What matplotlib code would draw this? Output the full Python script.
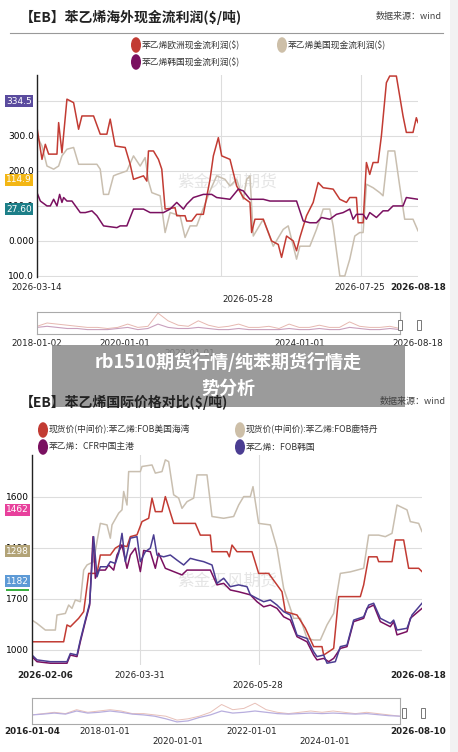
import matplotlib
matplotlib.use("Agg")
import matplotlib.pyplot as plt
from matplotlib.patches import Rectangle
import numpy as np

plt.rcParams['font.family'] = ['Noto Sans CJK SC', 'DejaVu Sans']

W, H = 458, 752
fig = plt.figure(figsize=(W/100, H/100), dpi=100)
fig.patch.set_facecolor('white')

def ax_px(x0, y0, x1, y1):
    return fig.add_axes([x0/W, 1-y1/H, (x1-x0)/W, (y1-y0)/H])

def ftxt(x, y, s, **kw):
    return fig.text(x/W, 1-y/H, s, **kw)

RED, BEIGE, PLUM, BLUE = '#c23b33', '#c9bfb0', '#7a1060', '#4b3d92'

# ---------------- Chart 1 data (t = sample position along time axis) ----------------
c1_eu_t = [20,35,45,55,80,85,95,110,130,145,155,190,210,230,240,255,285,300,310,340,350,355,370,385,395,405,435,440,465,470,485,500,520,540,550,565,575,600,620,640,660,665,675,700,725,745,755,770,790,800,810,830,850,865,880,910,930,950,960,980,985,1000,1010,1020,1030,1045,1055,1070,1080,1100,1120,1130,1150,1160,1165]
c1_eu_v = [324,233,276,248,248,338,252,405,395,319,357,357,305,305,348,271,267,219,176,186,171,257,257,233,205,91,95,72,72,57,57,76,76,176,243,295,243,233,157,124,110,24,62,62,0,-10,-47,14,0,-28,10,72,110,167,152,148,119,110,124,124,52,52,224,190,224,224,300,452,471,471,357,310,310,352,338]
c1_us_t = [20,35,50,70,85,95,110,130,145,200,210,220,235,250,260,290,310,330,345,355,365,390,405,420,450,465,480,500,515,540,560,585,600,620,640,650,660,670,700,730,760,775,800,810,840,860,880,900,910,930,945,960,975,990,1000,1010,1030,1050,1060,1075,1095,1110,1125,1150,1165]
c1_us_v = [300,271,214,205,214,243,262,267,219,219,205,133,133,186,190,200,243,214,238,171,138,129,24,81,72,10,43,43,81,143,186,176,157,176,119,176,186,14,62,-15,33,43,-52,-15,-15,33,91,91,43,-100,-100,-52,14,24,24,162,152,138,129,257,257,157,62,62,29]
c1_kr_t = [20,30,50,60,70,80,88,95,100,110,125,150,165,185,200,220,260,270,290,310,340,360,380,400,420,440,460,470,490,520,545,560,600,625,640,660,700,720,760,800,820,840,860,875,900,920,940,960,970,980,1000,1010,1020,1040,1060,1075,1090,1120,1130,1165]
c1_kr_v = [138,114,100,100,119,100,133,110,124,114,114,81,81,86,72,43,38,43,43,91,91,81,81,81,91,110,91,105,124,133,133,124,119,148,143,119,119,114,114,114,57,52,52,67,62,76,81,91,62,76,76,62,81,67,86,86,100,100,124,119]
c1_xticks = [20, 573, 993, 1165]
c1_yticks = [400, 300, 200, 100, 0, -100]
c1_ylabels = ['', '300.0', '200.0', '100.0', '0.000', '100.0']

# ---------------- Chart 2 data ----------------
c2_us_t = [5,100,110,120,145,160,175,200,210,240,255,270,290,300,320,335,355,365,375,395,405,430,495,510,540,545,590,597,605,620,665,685,715,740,755,765,800,825,850,875,880,910,925,990,1000,1015,1040,1045,1085,1095,1120,1135,1165,1175]
c2_us_v = [1031,1031,1097,1090,1123,1149,1299,1299,1371,1371,1398,1410,1404,1443,1450,1502,1515,1594,1541,1541,1600,1495,1495,1449,1449,1384,1384,1364,1410,1384,1384,1299,1299,1254,1227,1149,1136,1084,1012,1012,979,1005,1208,1208,1254,1364,1364,1345,1345,1430,1430,1319,1319,1306]
c2_fuj_t = [5,20,45,75,80,105,115,125,135,150,160,170,190,200,210,230,240,245,265,275,280,290,295,330,335,365,375,395,405,415,430,445,455,470,490,500,530,545,580,610,625,640,660,668,685,720,740,760,790,810,830,850,870,890,910,930,960,1000,1015,1045,1065,1085,1100,1130,1140,1165,1175]
c2_fuj_v = [1116,1103,1077,1077,1136,1142,1175,1162,1195,1188,1312,1332,1345,1424,1495,1489,1437,1489,1535,1548,1620,1567,1698,1698,1718,1724,1692,1698,1744,1737,1607,1594,1554,1580,1594,1685,1685,1522,1515,1522,1567,1600,1600,1639,1495,1489,1398,1240,1123,1123,1044,1038,1038,1097,1142,1299,1305,1319,1449,1449,1443,1456,1567,1548,1502,1495,1463]
c2_cn_t = [5,20,60,110,120,140,150,165,178,188,195,205,225,235,250,260,275,290,300,315,330,340,360,375,385,405,430,455,470,500,540,560,580,600,625,660,680,700,720,740,760,780,800,830,850,860,880,895,910,930,950,970,1000,1010,1030,1050,1080,1090,1100,1130,1140,1175]
c2_cn_v = [973,953,947,947,979,973,1031,1110,1175,1443,1280,1312,1312,1332,1312,1371,1410,1319,1371,1398,1306,1389,1384,1319,1378,1319,1306,1293,1312,1312,1312,1254,1260,1234,1227,1215,1188,1168,1175,1162,1129,1116,1051,1031,979,960,966,953,966,1005,1012,1110,1123,1162,1175,1110,1090,1110,1058,1071,1123,1162]
c2_kr_t = [5,20,60,110,120,140,150,165,178,190,200,210,230,240,255,265,275,285,300,320,330,345,360,370,380,400,420,440,460,480,500,520,545,560,580,600,625,650,660,680,700,720,740,760,780,800,830,850,860,880,890,915,930,950,970,1000,1015,1030,1050,1080,1090,1100,1130,1145,1175]
c2_kr_v = [979,960,953,953,985,979,1038,1116,1182,1443,1286,1325,1325,1345,1338,1378,1456,1345,1437,1443,1345,1384,1398,1450,1371,1364,1371,1351,1332,1358,1351,1345,1332,1260,1280,1247,1254,1247,1215,1201,1188,1195,1175,1149,1136,1057,1044,992,973,979,947,953,1012,1018,1116,1129,1175,1182,1123,1103,1116,1077,1084,1136,1182]
c2_xticks = [5, 330, 685, 1175]
c2_yticks = [1600, 1400, 1200, 1000]
c2_ylabels = ['1600', '1400', '1700', '1000']

# navigator mini series (relative 0..1)
nav1_a = [0.35,0.5,0.45,0.4,0.35,0.3,0.3,0.25,0.3,0.45,0.3,0.35,0.95,0.6,0.4,0.35,0.6,0.4,0.3,0.35,0.45,0.3,0.3,0.35,0.25,0.45,0.3,0.3,0.4,0.3,0.3,0.55,0.35,0.3,0.3,0.35,0.25]
nav1_b = [0.3,0.35,0.3,0.25,0.25,0.2,0.2,0.2,0.25,0.3,0.2,0.25,0.45,0.3,0.25,0.25,0.3,0.25,0.2,0.2,0.25,0.2,0.2,0.2,0.2,0.25,0.2,0.2,0.25,0.2,0.2,0.3,0.25,0.2,0.2,0.25,0.2]
nav2_a = [0.35,0.4,0.45,0.4,0.55,0.45,0.5,0.55,0.5,0.4,0.4,0.35,0.3,0.15,0.2,0.3,0.45,0.75,0.55,0.6,0.8,0.55,0.45,0.4,0.45,0.5,0.45,0.5,0.45,0.4,0.45,0.4,0.35,0.3]
nav2_b = [0.35,0.38,0.42,0.38,0.5,0.42,0.45,0.5,0.45,0.38,0.35,0.3,0.2,0.08,0.12,0.25,0.35,0.5,0.42,0.45,0.5,0.45,0.4,0.38,0.4,0.42,0.4,0.42,0.4,0.38,0.4,0.36,0.32,0.3]

def style_main(ax, yt, yl, xt):
    for s in ['top', 'right', 'bottom']:
        ax.spines[s].set_visible(False)
    ax.spines['left'].set_color('#222')
    ax.spines['left'].set_linewidth(1.0)
    ax.set_yticks(yt)
    ax.set_yticklabels(yl, fontsize=6.5, family=['DejaVu Sans'])
    ax.tick_params(axis='y', length=0, pad=2)
    ax.set_xticks([])
    for y in yt:
        ax.axhline(y, color='#dddddd', lw=0.8, zorder=0)
    for x in xt[1:3]:
        ax.axvline(x, color='#dddddd', lw=0.8, zorder=0)

def badge(x, y, s, bg):
    ftxt(x, y, s, fontsize=6.5, color='white', ha='left', va='center', family=['DejaVu Sans'],
         bbox=dict(boxstyle='square,pad=0.12', fc=bg, ec='none'))

def legend_dot(x, y, c, s):
    fig.add_artist(plt.Circle(((x)/W, 1-y/H), 4.3/W, color=c, transform=fig.transFigure))
    ftxt(x+6, y, s, fontsize=6.3, color='#333', va='center')

# ================= Chart 1 =================
ftxt(20, 17, '【EB】苯乙烯海外现金流利润($/吨)', fontsize=10, fontweight='bold', color='#222', va='center')
ftxt(442, 17, '数据来源：wind', fontsize=6.5, color='#444', ha='right', va='center')
fig.add_artist(plt.Line2D([10/W, 443/W], [1-33/H, 1-33/H], color='#999', lw=0.8))
legend_dot(136, 45, RED, '苯乙烯欧洲现金流利润($)')
legend_dot(282, 45, '#cdbfa8', '苯乙烯美国现金流利润($)')
legend_dot(136, 62, PLUM, '苯乙烯韩国现金流利润($)')

ax1 = ax_px(37, 75, 418, 277)
ax1.plot(c1_us_t, c1_us_v, color=BEIGE, lw=1.1)
ax1.plot(c1_eu_t, c1_eu_v, color=RED, lw=1.1)
ax1.plot(c1_kr_t, c1_kr_v, color=PLUM, lw=1.1)
ax1.set_xlim(20, 1165)
ax1.set_ylim(-103, 474)
style_main(ax1, c1_yticks, c1_ylabels, c1_xticks)
ax1.text(0.5, 0.47, '紫金天风期货', transform=ax1.transAxes, fontsize=12, color='#e5e5e5', ha='center', va='center', zorder=0)
badge(6, 101, '334.5', '#5a4b9e')
badge(6, 180, '114.9', '#f3b614')
badge(6, 209, '27.60', '#1d7f88')

for x, y, s in [(37, 288, '2026-03-14'), (360, 288, '2026-07-25'), (418, 288, '2026-08-18'), (248, 299, '2026-05-28')]:
    ftxt(x, y, s, fontsize=6.3, ha='center', va='center', color='#222', family=['DejaVu Sans'],
         fontweight='bold' if s == '2026-08-18' else 'normal')

nav1 = ax_px(37, 312, 400, 334)
n = np.arange(len(nav1_a))
nav1.plot(n, nav1_a, color='#e6b8b0', lw=0.7)
nav1.plot(n, nav1_b, color='#c9a0bd', lw=0.8)
nav1.set_xlim(0, len(nav1_a)-1); nav1.set_ylim(0, 1)
nav1.set_xticks([]); nav1.set_yticks([])
for s in nav1.spines.values():
    s.set_color('#aaaaaa')
for x in [398, 417]:
    fig.add_artist(Rectangle((x/W, 1-330/H), 4/W, 10/H, fc='white', ec='#777', lw=0.7, transform=fig.transFigure))
for x, s in [(37, '2018-01-02'), (125, '2020-01-01'), (300, '2024-01-01'), (418, '2026-08-18')]:
    ftxt(x, 344, s, fontsize=6.3, ha='center', va='center', color='#222', family=['DejaVu Sans'])
ftxt(190, 354, '2022-01-01', fontsize=6.3, ha='center', va='center', color='#222', family=['DejaVu Sans'])

# ================= Chart 2 =================
ftxt(20, 402, '【EB】苯乙烯国际价格对比($/吨)', fontsize=10, fontweight='bold', color='#222', va='center', zorder=12)
ftxt(446, 402, '数据来源：wind', fontsize=6.5, color='#444', ha='right', va='center', zorder=12)
legend_dot(43, 430, RED, '现货价(中间价):苯乙烯:FOB美国海湾')
legend_dot(240, 430, '#cdbfa8', '现货价(中间价):苯乙烯:FOB鹿特丹')
legend_dot(43, 447, PLUM, '苯乙烯：CFR中国主港')
legend_dot(240, 447, BLUE, '苯乙烯：FOB韩国')

ax2 = ax_px(32, 455, 422, 665)
ax2.plot(c2_fuj_t, c2_fuj_v, color=BEIGE, lw=1.1)
ax2.plot(c2_us_t, c2_us_v, color=RED, lw=1.1)
ax2.plot(c2_cn_t, c2_cn_v, color=PLUM, lw=1.1)
ax2.plot(c2_kr_t, c2_kr_v, color=BLUE, lw=1.1)
ax2.set_xlim(5, 1175)
ax2.set_ylim(940, 1763)
style_main(ax2, c2_yticks, c2_ylabels, c2_xticks)
ax2.text(0.5, 0.4, '紫金天风期货', transform=ax2.transAxes, fontsize=12, color='#e5e5e5', ha='center', va='center', zorder=0)
badge(6, 510, '1462', '#e8409c')
badge(6, 551, '1298', '#b2a377')
badge(6, 581, '1182', '#5d9ad6')
fig.add_artist(Rectangle((6/W, 1-591/H), 23/W, 2/H, fc='#3cb043', ec='none', transform=fig.transFigure))

for x, y, s, b in [(45, 675, '2026-02-06', True), (140, 675, '2026-03-31', False), (418, 675, '2026-08-18', True), (258, 686, '2026-05-28', False)]:
    ftxt(x, y, s, fontsize=6.3, ha='center', va='center', color='#222', family=['DejaVu Sans'],
         fontweight='bold' if b else 'normal')

nav2 = ax_px(32, 698, 400, 724)
n2 = np.arange(len(nav2_a))
nav2.plot(n2, nav2_a, color='#e8c0b8', lw=0.7)
nav2.plot(n2, nav2_b, color='#b8aede', lw=0.9)
nav2.set_xlim(0, len(nav2_a)-1); nav2.set_ylim(0, 1)
nav2.set_xticks([]); nav2.set_yticks([])
for s in nav2.spines.values():
    s.set_color('#aaaaaa')
for x in [402, 421]:
    fig.add_artist(Rectangle((x/W, 1-718/H), 4/W, 10/H, fc='white', ec='#777', lw=0.7, transform=fig.transFigure))
for x, y, s, b in [(32, 731, '2016-01-04', True), (105, 731, '2018-01-01', False), (252, 731, '2022-01-01', False),
                   (418, 731, '2026-08-10', True), (178, 741, '2020-01-01', False), (325, 741, '2024-01-01', False)]:
    ftxt(x, y, s, fontsize=6.3, ha='center', va='center', color='#222', family=['DejaVu Sans'],
         fontweight='bold' if b else 'normal')

# right-side border strip
fig.add_artist(Rectangle((450/W, 0), 8/W, 1, fc='#f2f2f2', ec='none', transform=fig.transFigure))

# ================= Banner =================
fig.add_artist(Rectangle((52/W, 1-407/H), 353/W, 62/H, fc='#8a8a8a', ec='none', alpha=0.85,
                         transform=fig.transFigure, zorder=10))
fig.text(228/W, 1-362/H, 'rb1510期货行情/纯苯期货行情走', fontsize=13, fontweight='bold', color='white',
         ha='center', va='center', zorder=11)
fig.text(228/W, 1-388/H, '势分析', fontsize=13, fontweight='bold', color='white',
         ha='center', va='center', zorder=11)

fig.savefig('out.png', dpi=100, facecolor='white')
